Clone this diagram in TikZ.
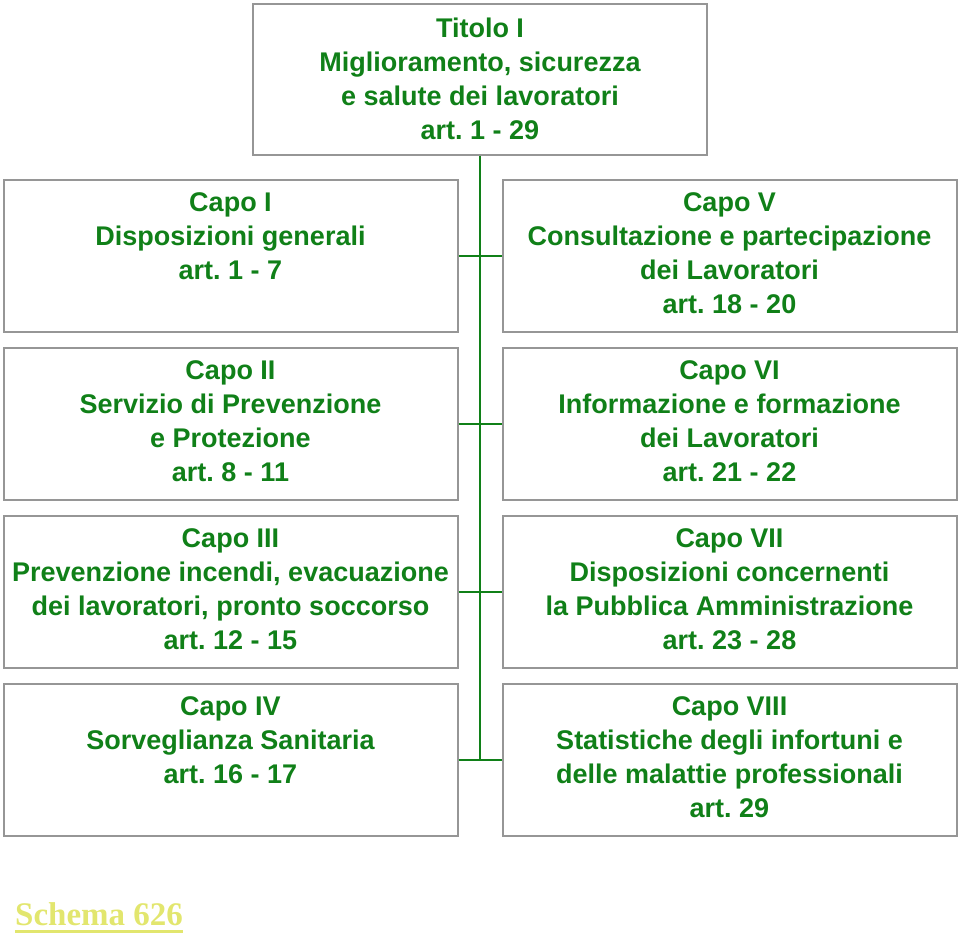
\documentclass[tikz,border=0pt]{standalone}
\usepackage{fontspec}
\setmainfont{Liberation Sans}
\newfontfamily\schemafont{Liberation Serif}
\usetikzlibrary{positioning}
\definecolor{capogreen}{RGB}{16,128,24}
\definecolor{framegray}{RGB}{150,150,150}
\definecolor{schemayellow}{RGB}{226,230,110}
\newcommand{\capotext}[2][126pt]{\parbox[t][#1][t]{454pt}{\centering\frenchspacing\bfseries\fontsize{27}{34}\selectfont #2}}
\begin{document}
\begin{tikzpicture}[x=1pt,y=-1pt,
    capo/.style={draw=framegray, line width=2pt, inner xsep=0pt, inner ysep=13pt, text=capogreen},
    link/.style={draw=capogreen, line width=2pt}]
  \useasboundingbox (0,0) rectangle (960,939);
  \node[capo] (titolo) at (480,79.5) {\capotext[124pt]{Titolo I\\Miglioramento, sicurezza\\e salute dei lavoratori\\art. 1 - 29}};
  % left column
  \node[capo] (capoI) at (230.5,255.5) {\capotext{Capo I\\Disposizioni generali\\art. 1 - 7}};
  \node[capo, below=14pt of capoI] (capoII) {\capotext{Capo II\\Servizio di Prevenzione\\e Protezione\\art. 8 - 11}};
  \node[capo, below=14pt of capoII] (capoIII) {\capotext{Capo III\\Prevenzione incendi, evacuazione\\dei lavoratori, pronto soccorso\\art. 12 - 15}};
  \node[capo, below=14pt of capoIII] (capoIV) {\capotext{Capo IV\\Sorveglianza Sanitaria\\art. 16 - 17}};
  % right column
  \node[capo, right=43pt of capoI] (capoV) {\capotext{Capo V\\Consultazione e partecipazione\\dei Lavoratori\\art. 18 - 20}};
  \node[capo, right=43pt of capoII] (capoVI) {\capotext{Capo VI\\Informazione e formazione\\dei Lavoratori\\art. 21 - 22}};
  \node[capo, right=43pt of capoIII] (capoVII) {\capotext{Capo VII\\Disposizioni concernenti\\la Pubblica Amministrazione\\art. 23 - 28}};
  \node[capo, right=43pt of capoIV] (capoVIII) {\capotext{Capo VIII\\Statistiche degli infortuni e\\delle malattie professionali\\art. 29}};
  \draw[link] (titolo.south) -- (titolo.south |- capoIV.east);
  \foreach \l/\r in {capoI/capoV, capoII/capoVI, capoIII/capoVII, capoIV/capoVIII}
    \draw[link] (\l.east) -- (\r.west);
  \node[text=schemayellow, font={\schemafont\bfseries\fontsize{33}{33}\selectfont}, anchor=base west, inner sep=0pt] (schema) at (15,925) {Schema 626};
  \draw[schemayellow, line width=3pt] ([yshift=-6pt]schema.base west) -- ([yshift=-6pt]schema.base east);
\end{tikzpicture}
\end{document}
